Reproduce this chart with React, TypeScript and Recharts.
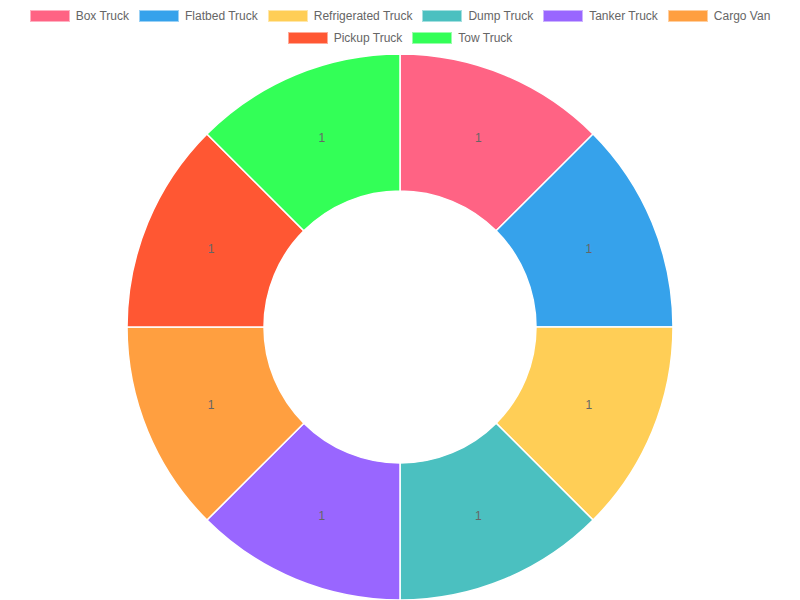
import React from "react";
import { PieChart, Pie, Cell } from "recharts";

const categories = [
  "Box Truck",
  "Flatbed Truck",
  "Refrigerated Truck",
  "Dump Truck",
  "Tanker Truck",
  "Cargo Van",
  "Pickup Truck",
  "Tow Truck",
];
const values = [1, 1, 1, 1, 1, 1, 1, 1];
const colors = [
  "#FF6384",
  "#36A2EB",
  "#FFCE56",
  "#4BC0C0",
  "#9966FF",
  "#FF9F40",
  "#FF5733",
  "#33FF57",
];

const data = categories.map((name, i) => ({ name, value: values[i] }));

const FONT = "'Liberation Sans', Arial, Helvetica, sans-serif";
const RAD = Math.PI / 180;

const renderLabel = (props: any) => {
  const { cx, cy, midAngle, innerRadius, outerRadius, value } = props;
  const r = (innerRadius + outerRadius) / 2;
  const x = cx + r * Math.cos(-midAngle * RAD);
  const y = cy + r * Math.sin(-midAngle * RAD);
  return (
    <text
      x={x}
      y={y}
      fill="#666"
      fontSize={12}
      fontFamily={FONT}
      textAnchor="middle"
      dominantBaseline="central"
    >
      {value}
    </text>
  );
};

export default function App() {
  return (
    <div
      style={{
        position: "absolute",
        left: 0,
        top: 0,
        width: 800,
        height: 600,
        background: "#fff",
        fontFamily: FONT,
      }}
    >
      <div
        style={{
          position: "absolute",
          left: 0,
          top: 10,
          width: 800,
          display: "flex",
          flexWrap: "wrap",
          justifyContent: "center",
          columnGap: 10,
          rowGap: 10,
          zIndex: 2,
        }}
      >
        {categories.map((c, i) => (
          <div
            key={c}
            style={{ display: "flex", alignItems: "center", height: 12 }}
          >
            <div
              style={{
                width: 40,
                height: 12,
                background: colors[i],
                boxSizing: "border-box",
                border: "1px solid rgba(255,255,255,0.5)",
              }}
            />
            <span
              style={{
                marginLeft: 6,
                fontSize: 12,
                lineHeight: "12px",
                color: "#666",
                whiteSpace: "nowrap",
              }}
            >
              {c}
            </span>
          </div>
        ))}
      </div>
      <PieChart
        width={800}
        height={600}
        margin={{ top: 0, right: 0, bottom: 0, left: 0 }}
      >
        <Pie
          data={data}
          dataKey="value"
          nameKey="name"
          cx={400}
          cy={327}
          innerRadius={136}
          outerRadius={273}
          startAngle={90}
          endAngle={-270}
          stroke="#fff"
          strokeWidth={1.5}
          label={renderLabel}
          labelLine={false}
          isAnimationActive={false}
        >
          {data.map((d, i) => (
            <Cell key={d.name} fill={colors[i]} />
          ))}
        </Pie>
      </PieChart>
    </div>
  );
}
